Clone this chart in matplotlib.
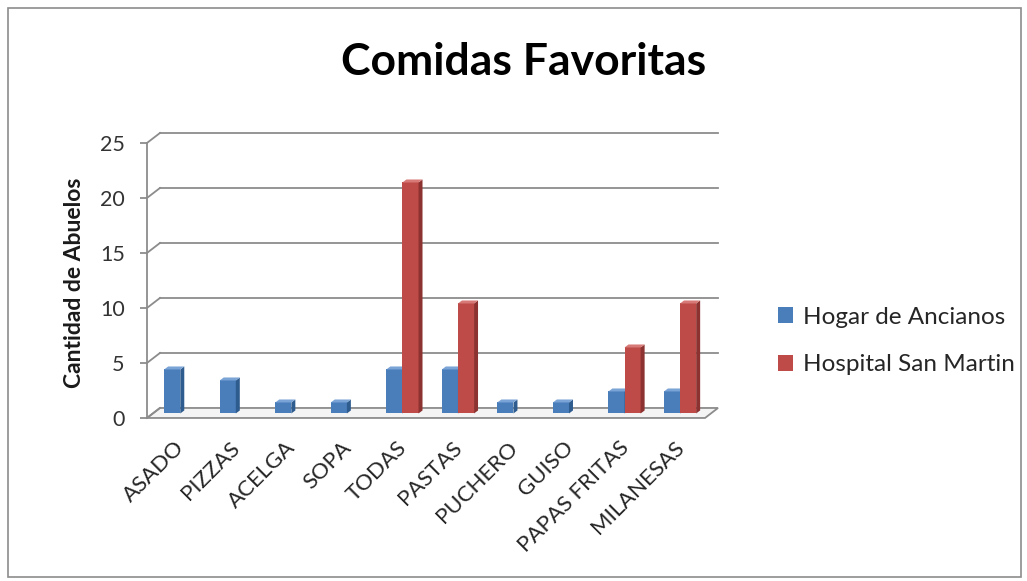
import numpy as np
import matplotlib.pyplot as plt
from matplotlib.patches import Polygon, Rectangle, Patch
from matplotlib.transforms import ScaledTranslation

# Datos
categorias = ['ASADO', 'PIZZAS', 'ACELGA', 'SOPA', 'TODAS', 'PASTAS',
              'PUCHERO', 'GUISO', 'PAPAS FRITAS', 'MILANESAS']
hogar = [4, 3, 1, 1, 4, 4, 1, 1, 2, 2]
hospital = [0, 0, 0, 0, 21, 10, 0, 0, 6, 10]
series = ['Hogar de Ancianos', 'Hospital San Martin']
yticks = [0, 5, 10, 15, 20, 25]

plt.rcParams['font.family'] = ['Lato', 'DejaVu Sans']

# colores (frente, lado, arriba)
azul = ('#4a7ebb', '#2f5c8f', '#7aa3d6')
rojo = ('#be4b48', '#8c3230', '#d77a77')

fig = plt.figure(figsize=(10.27, 5.81), dpi=100)
ax = fig.add_axes([0.1431, 0.2806, 0.5434, 0.4733])
xmin, xmax = -0.6, 9.45
ax.set_xlim(xmin, xmax)
ax.set_ylim(0, 25)
ax.patch.set_visible(False)
for s in ['top', 'right', 'bottom']:
    ax.spines[s].set_visible(False)
ax.spines['left'].set_color('#8c8c8c')
ax.spines['left'].set_linewidth(1.3)

# pixeles por unidad de datos
p0 = ax.transData.transform((0, 0))
p1 = ax.transData.transform((1, 1))
px_x, px_y = p1[0] - p0[0], p1[1] - p0[1]

# profundidad de la pared de fondo
ddx, ddy = 13 / px_x, 10 / px_y
gris = '#8c8c8c'

# piso
piso = Polygon([(xmin, 0), (xmax, 0), (xmax + ddx, ddy), (xmin + ddx, ddy)],
               closed=True, facecolor='#f4f4f4', edgecolor=gris, lw=1.3,
               clip_on=False, zorder=1)
ax.add_patch(piso)

# lineas de division en la pared de fondo
for v in yticks[1:]:
    ax.plot([xmin + ddx, xmax + ddx], [v + ddy, v + ddy], color=gris, lw=1.3,
            clip_on=False, zorder=1)
for v in yticks:
    ax.plot([xmin, xmin + ddx], [v, v + ddy], color=gris, lw=1.3,
            clip_on=False, zorder=1)

# barras con efecto 3D
w = 0.29
base = ddy * 0.45
sx, sy = 4 / px_x, 3 / px_y
x = np.arange(len(categorias))
for valores, colores, desp in [(hogar, azul, -w), (hospital, rojo, 0)]:
    for xi, v in zip(x, valores):
        if v == 0:
            continue
        x0, x1 = xi + desp, xi + desp + w
        t = base + v
        ax.add_patch(Rectangle((x0, base), w, v, facecolor=colores[0],
                               edgecolor='none', zorder=3, clip_on=False))
        ax.add_patch(Polygon([(x1, base), (x1 + sx, base + sy), (x1 + sx, t + sy), (x1, t)],
                             facecolor=colores[1], edgecolor='none', zorder=3, clip_on=False))
        ax.add_patch(Polygon([(x0, t), (x1, t), (x1 + sx, t + sy), (x0 + sx, t + sy)],
                             facecolor=colores[2], edgecolor='none', zorder=3, clip_on=False))

ax.set_yticks(yticks)
ax.tick_params(axis='y', length=5, color=gris, width=1.3, labelsize=15.5,
               labelcolor='#333333', pad=11)
ax.set_xticks(x)
ax.set_xticklabels(categorias, rotation=45, ha='right', rotation_mode='anchor',
                   fontsize=16, color='#262626')
ax.tick_params(axis='x', length=0, pad=14)
corr = ScaledTranslation(-6 / 100, 0, fig.dpi_scale_trans)
for lbl in ax.get_xticklabels():
    lbl.set_transform(lbl.get_transform() + corr)

fig.text(0.073, 0.513, 'Cantidad de Abuelos', rotation=90, ha='center', va='center',
         fontsize=16.5, fontweight='bold', color='#1a1a1a')
fig.text(0.510, 0.893, 'Comidas Favoritas', ha='center', va='center',
         fontsize=32, fontweight='bold', color='black')

handles = [Patch(facecolor=azul[0]), Patch(facecolor=rojo[0])]
fig.legend(handles, series, loc='center left', bbox_to_anchor=(0.746, 0.413),
           frameon=False, fontsize=17.5, labelspacing=1.1, handlelength=0.6,
           handleheight=0.6, handletextpad=0.4, borderpad=0, labelcolor='#262626')

# borde del grafico
fig.patches.append(Rectangle((8 / 1027, 4 / 581), 1013 / 1027, 569 / 581,
                             transform=fig.transFigure, fill=False,
                             edgecolor='#8c8c8c', lw=1.2))

fig.savefig('out.png', dpi=100)
